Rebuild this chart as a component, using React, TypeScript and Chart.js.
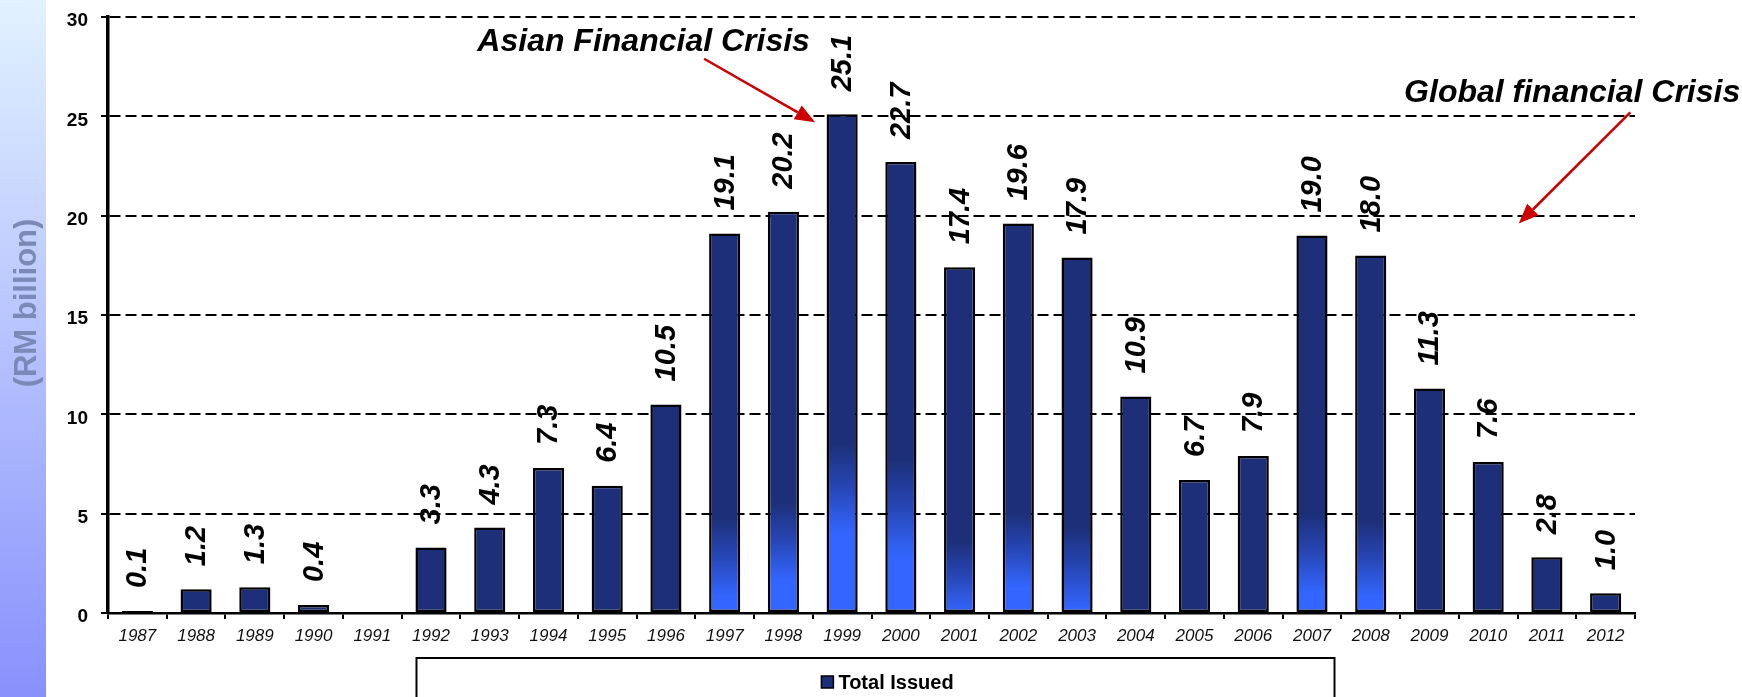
import React, { useEffect, useRef } from "react";
import { Chart, registerables } from "chart.js";

Chart.register(...registerables);

const YEARS = ["1987","1988","1989","1990","1991","1992","1993","1994","1995","1996","1997","1998","1999","2000","2001","2002","2003","2004","2005","2006","2007","2008","2009","2010","2011","2012"];
const TOTAL_ISSUED: (number | null)[] = [0.1,1.2,1.3,0.4,null,3.3,4.3,7.3,6.4,10.5,19.1,20.2,25.1,22.7,17.4,19.6,17.9,10.9,6.7,7.9,19.0,18.0,11.3,7.6,2.8,1.0];
const SERIES_LABEL = "Total Issued";
const Y_TITLE = "(RM billion)";
const Y_TICKS = [0, 5, 10, 15, 20, 25, 30];

// style: per-bar bright glow range [navy ends at, bright from] in axis units
const GLOW: ([number, number] | null)[] = [null,null,null,null,null,null,null,null,null,null,[4.8,0.8],[5.6,1.6],[8.5,4.0],[7.7,2.8],[3.6,0.0],[5.0,1.3],[4.3,0.2],null,null,null,[5.0,1.0],[4.6,0.8],null,null,null,null];

// annotations anchored in data space: [category index, value]
const ANNOTATIONS = [
  { text: "Asian Financial Crisis", textAt: [8.62, 28.3], from: [9.65, 27.9], to: [11.54, 24.7] },
  { text: "Global financial Crisis", textAt: [24.43, 25.7], from: [25.42, 25.2], to: [23.52, 19.6] },
];

const NAVY = "#1c2f78";
const BRIGHT = "#3366ff";
const FONT = "'Liberation Sans', Arial, sans-serif";

function drawArrow(ctx: CanvasRenderingContext2D, x1: number, y1: number, x2: number, y2: number) {
  const ang = Math.atan2(y2 - y1, x2 - x1);
  const head = 20, hw = 8;
  const bx = x2 - head * Math.cos(ang), by = y2 - head * Math.sin(ang);
  ctx.save();
  ctx.strokeStyle = "#cc0000";
  ctx.fillStyle = "#cc0000";
  ctx.lineWidth = 2.5;
  ctx.beginPath();
  ctx.moveTo(x1, y1);
  ctx.lineTo(bx, by);
  ctx.stroke();
  ctx.beginPath();
  ctx.moveTo(x2, y2);
  ctx.lineTo(bx + hw * Math.sin(ang), by - hw * Math.cos(ang));
  ctx.lineTo(bx - hw * Math.sin(ang), by + hw * Math.cos(ang));
  ctx.closePath();
  ctx.fill();
  ctx.restore();
}

const decorPlugin = {
  id: "decor",
  beforeDraw(chart: any) {
    const ctx = chart.ctx as CanvasRenderingContext2D;
    ctx.save();
    ctx.fillStyle = "#ffffff";
    ctx.fillRect(0, 0, chart.width, chart.height);
    const g = ctx.createLinearGradient(0, 0, 0, chart.height);
    g.addColorStop(0, "#e2f2ff");
    g.addColorStop(1, "#8891fc");
    ctx.fillStyle = g;
    ctx.fillRect(0, 0, 46, chart.height);
    ctx.restore();
  },
  afterDatasetsDraw(chart: any) {
    const ctx = chart.ctx as CanvasRenderingContext2D;
    const meta = chart.getDatasetMeta(0);
    const data = chart.data.datasets[0].data;
    ctx.save();
    ctx.fillStyle = "#000";
    ctx.font = `italic bold 29px ${FONT}`;
    ctx.textAlign = "left";
    ctx.textBaseline = "middle";
    meta.data.forEach((el: any, i: number) => {
      const v = data[i];
      if (v === null || v === undefined) return;
      ctx.save();
      ctx.translate(el.x + 1, el.y - 23);
      ctx.rotate(-Math.PI / 2);
      ctx.fillText(Number(v).toFixed(1), 0, 0);
      ctx.restore();
    });
    ctx.restore();
  },
  afterDraw(chart: any) {
    const ctx = chart.ctx as CanvasRenderingContext2D;
    const xs = chart.scales.x, ys = chart.scales.y;
    const area = chart.chartArea;
    const px = (i: number) => xs.getPixelForValue(0) + i * (xs.getPixelForValue(1) - xs.getPixelForValue(0));
    // y title
    ctx.save();
    ctx.translate(27, 303);
    ctx.rotate(-Math.PI / 2);
    ctx.font = `bold 31px ${FONT}`;
    ctx.fillStyle = "#7a89b6";
    ctx.textAlign = "center";
    ctx.textBaseline = "middle";
    ctx.fillText(Y_TITLE, 0, 0);
    ctx.restore();
    // annotations
    ANNOTATIONS.forEach((a) => {
      ctx.save();
      ctx.font = `italic bold 32px ${FONT}`;
      ctx.fillStyle = "#000";
      ctx.textAlign = "center";
      ctx.textBaseline = "alphabetic";
      ctx.fillText(a.text, px(a.textAt[0]), ys.getPixelForValue(a.textAt[1]));
      ctx.restore();
      drawArrow(ctx, px(a.from[0]), ys.getPixelForValue(a.from[1]), px(a.to[0]), ys.getPixelForValue(a.to[1]));
    });
    // legend box
    const cx = (area.left + area.right) / 2 + 4;
    ctx.save();
    ctx.strokeStyle = "#000";
    ctx.lineWidth = 2;
    ctx.strokeRect(cx - 459, area.bottom + 45, 918, 80);
    ctx.font = `bold 20px ${FONT}`;
    const label = chart.data.datasets[0].label;
    const tw = ctx.measureText(label).width;
    const total = 12 + 5 + tw;
    const sx = cx + 12 - total / 2;
    const ly = area.bottom + 69;
    ctx.fillStyle = NAVY;
    ctx.fillRect(sx, ly - 6, 12, 12);
    ctx.lineWidth = 1.5;
    ctx.strokeStyle = "#000";
    ctx.strokeRect(sx, ly - 6, 12, 12);
    ctx.fillStyle = "#000";
    ctx.textAlign = "left";
    ctx.textBaseline = "middle";
    ctx.fillText(label, sx + 17, ly + 1);
    ctx.restore();
  },
};

export default function App() {
  const ref = useRef<HTMLCanvasElement | null>(null);
  useEffect(() => {
    document.body.style.margin = "0";
    const canvas = ref.current!;
    const chart = new Chart(canvas, {
      type: "bar",
      data: {
        labels: YEARS,
        datasets: [
          {
            label: SERIES_LABEL,
            data: TOTAL_ISSUED,
            backgroundColor: (c: any) => {
              const chart = c.chart;
              const g = GLOW[c.dataIndex];
              const ys = chart.scales && chart.scales.y;
              if (!g || !ys || !chart.chartArea) return NAVY;
              const y0 = ys.getPixelForValue(g[0]);
              const y1 = ys.getPixelForValue(g[1]);
              if (!isFinite(y0) || !isFinite(y1) || y1 <= y0) return NAVY;
              const grad = chart.ctx.createLinearGradient(0, y0, 0, y1);
              grad.addColorStop(0, NAVY);
              grad.addColorStop(0.5, "#2747b8");
              grad.addColorStop(1, BRIGHT);
              return grad;
            },
            borderColor: "#000",
            borderWidth: 2.5,
            borderSkipped: false,
            barPercentage: 0.53,
            categoryPercentage: 1,
          },
        ],
      },
      options: {
        responsive: false,
        animation: false,
        devicePixelRatio: 1,
        layout: { padding: { left: 0, right: 107, top: 17, bottom: 0 } },
        plugins: { legend: { display: false }, tooltip: { enabled: false } },
        scales: {
          x: {
            afterFit: (s: any) => { s.height = 84; },
            grid: { display: true, drawOnChartArea: false, drawTicks: true, tickLength: 6, color: "#000", lineWidth: 2 },
            border: { display: true, color: "#000", width: 2.5 },
            ticks: { color: "#111", font: { family: FONT, size: 17, style: "italic" }, padding: 7, maxRotation: 0, autoSkip: false },
          },
          y: {
            min: 0,
            max: 30,
            afterFit: (s: any) => { s.width = 108; s.paddingTop = 0; s.paddingBottom = 0; },
            afterBuildTicks: (s: any) => { s.ticks = Y_TICKS.map((v) => ({ value: v })); },
            grid: { color: "#000", lineWidth: 2, tickBorderDash: [1, 0], drawTicks: true, tickLength: 7, tickColor: "#000", tickWidth: 2 },
            border: { display: true, color: "#000", width: 3.5, dash: [11, 5] },
            ticks: { color: "#000", font: { family: FONT, size: 19, weight: "bold" }, padding: 13, labelOffset: 4 },
          },
        },
      },
      plugins: [decorPlugin],
    } as any);
    return () => chart.destroy();
  }, []);
  return (
    <div style={{ position: "absolute", left: 0, top: 0, width: 1742, height: 697 }}>
      <canvas ref={ref} width={1742} height={697} />
    </div>
  );
}
